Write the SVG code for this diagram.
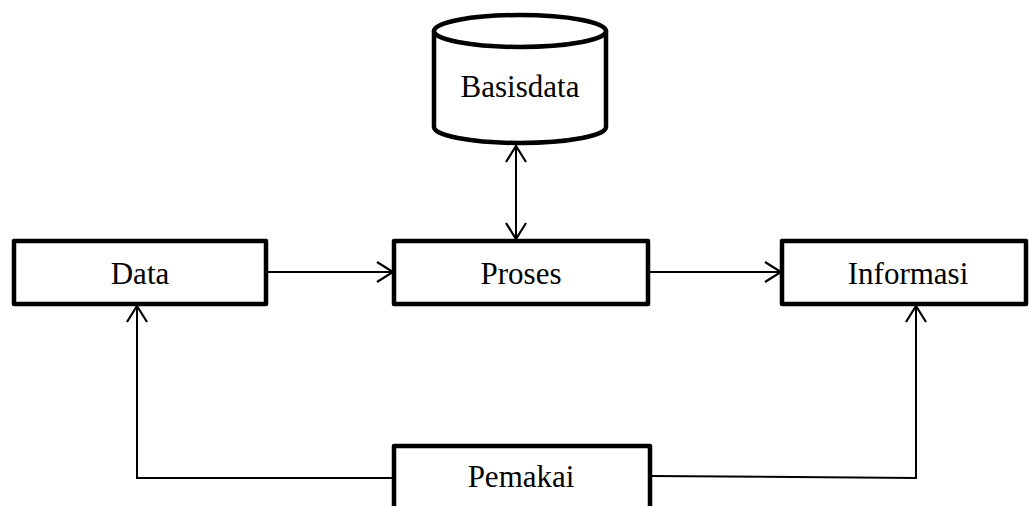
<svg xmlns="http://www.w3.org/2000/svg" width="1029" height="506" viewBox="0 0 1029 506">
<style>
.box{fill:#fff;stroke:#000;stroke-width:4.5;stroke-linejoin:round}
.lbl{font-family:"Liberation Serif","Times New Roman",serif;font-size:31px;fill:#000;text-anchor:middle}
.con{fill:none;stroke:#000;stroke-width:2}
</style>
<defs>
<marker id="arr" viewBox="0 0 20 24" refX="18" refY="12" markerWidth="20" markerHeight="24" markerUnits="userSpaceOnUse" orient="auto-start-reverse">
<path d="M2,2 L18,12 L2,22" fill="none" stroke="#000" stroke-width="2.2"/>
</marker>
</defs>
<rect width="1029" height="506" fill="#fff"/>
<g id="connectors">
<line class="con" x1="266" y1="272" x2="393" y2="272" marker-end="url(#arr)"/>
<line class="con" x1="648" y1="272" x2="781" y2="272" marker-end="url(#arr)"/>
<line class="con" x1="516" y1="146" x2="516" y2="239" marker-start="url(#arr)" marker-end="url(#arr)"/>
<polyline class="con" points="394,478 137,478 137,306" marker-end="url(#arr)"/>
<polyline class="con" points="650,476 916,478 916,306" marker-end="url(#arr)"/>
</g>
<g id="basisdata">
<path class="box" d="M434,31 L434,127 A86,16 0 0 0 606,127 L606,31"/>
<ellipse class="box" cx="520" cy="31" rx="86" ry="16"/>
<text class="lbl" x="520" y="97">Basisdata</text>
</g>
<g id="data">
<rect class="box" x="14" y="241" width="252" height="63"/>
<text class="lbl" x="140" y="284">Data</text>
</g>
<g id="proses">
<rect class="box" x="394" y="241" width="254" height="63"/>
<text class="lbl" x="521" y="284">Proses</text>
</g>
<g id="informasi">
<rect class="box" x="782" y="241" width="244" height="63"/>
<text class="lbl" x="908" y="284">Informasi</text>
</g>
<g id="pemakai">
<rect class="box" x="394" y="446" width="256" height="80"/>
<text class="lbl" x="521" y="487">Pemakai</text>
</g>
</svg>
